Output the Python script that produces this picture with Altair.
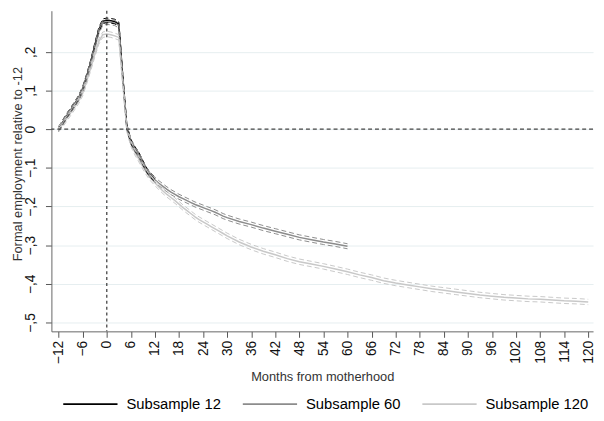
import altair as alt
import pandas as pd

series_names = ["Subsample 12", "Subsample 60", "Subsample 120"]
series_colors = ["#000000", "#8c8c8c", "#c8c8c8"]

months_12 = list(range(-12, 13))
vals_12 = [0.000, 0.017, 0.034, 0.049, 0.065, 0.081, 0.104, 0.137, 0.173, 0.216, 0.256, 0.279,
           0.281, 0.280, 0.278, 0.271, 0.133, 0.006, -0.032, -0.051, -0.066, -0.087, -0.107, -0.121, -0.130]

months_60 = list(range(-12, 31)) + list(range(33, 61, 3))
vals_60 = [0.000, 0.016, 0.033, 0.048, 0.064, 0.080, 0.102, 0.135, 0.170, 0.212, 0.252, 0.275,
           0.277, 0.276, 0.274, 0.268, 0.130, 0.005, -0.033, -0.052, -0.067, -0.088, -0.108, -0.122, -0.131,
           -0.140, -0.148, -0.156, -0.163, -0.169, -0.175, -0.180, -0.185, -0.190, -0.195, -0.199, -0.203,
           -0.207, -0.211, -0.215, -0.220, -0.225, -0.229,
           -0.239, -0.247, -0.256, -0.264, -0.272, -0.280, -0.286, -0.292, -0.297, -0.303]

months_120 = list(range(-12, 31)) + list(range(33, 121, 3))
vals_120 = [0.000, 0.012, 0.027, 0.042, 0.057, 0.073, 0.093, 0.124, 0.158, 0.193, 0.226, 0.244,
            0.246, 0.244, 0.241, 0.237, 0.118, 0.000, -0.038, -0.060, -0.078, -0.097, -0.114, -0.128, -0.139,
            -0.150, -0.160, -0.169, -0.177, -0.185, -0.194, -0.203, -0.211, -0.219, -0.227, -0.234, -0.240,
            -0.246, -0.252, -0.258, -0.264, -0.270, -0.276,
            -0.292, -0.305, -0.316, -0.325, -0.335, -0.343, -0.349, -0.355, -0.362, -0.369,
            -0.377, -0.384, -0.392, -0.398, -0.403, -0.408, -0.413, -0.417, -0.421, -0.425,
            -0.429, -0.432, -0.435, -0.437, -0.439, -0.440, -0.442, -0.444, -0.445, -0.447]

# confidence-band half widths
half_widths = [0.006, 0.0065, 0.007]

x_ticks = list(range(-12, 121, 6))
y_ticks = [-0.5, -0.4, -0.3, -0.2, -0.1, 0.0, 0.1, 0.2]

rows = []
for name, ms, vs, hw in zip(series_names, [months_12, months_60, months_120],
                            [vals_12, vals_60, vals_120], half_widths):
    for m, v in zip(ms, vs):
        rows.append({"series": name, "month": m, "value": v, "lo": v - hw, "hi": v + hw})
df = pd.DataFrame(rows)

FONT = "Liberation Sans"

x_axis = alt.Axis(values=x_ticks, labelAngle=270, labelFontSize=14, labelFont=FONT,
                  labelColor="#111111", tickSize=6, tickColor="#555555",
                  domainColor="#666666", grid=False, labelPadding=3,
                  title="Months from motherhood", titleFont=FONT, titleFontSize=13,
                  titleFontWeight="normal", titleColor="#333333", titlePadding=7,
                  labelOverlap=False)
x_scale = alt.Scale(domain=[-13.8, 121.2], nice=False, zero=False)
y_axis = alt.Axis(values=y_ticks, labelAngle=270, labelFontSize=14, labelFont=FONT,
                  labelColor="#111111", tickSize=6, tickColor="#555555", domainColor="#666666",
                  grid=True, gridColor="#e6eef0", gridWidth=1, labelPadding=8,
                  labelExpr="datum.value == 0 ? '0' : replace(format(datum.value, '.1f'), '0.', ',')",
                  title="Formal employment relative to -12", titleFont=FONT, titleFontSize=13,
                  titleFontWeight="normal", titleColor="#333333", titleX=-34, titleY=155,
                  titleBaseline="middle", labelOverlap=False)
y_scale = alt.Scale(domain=[-0.523, 0.306], nice=False, zero=False)

color_scale = alt.Scale(domain=series_names, range=series_colors)

base = alt.Chart(df)

main = base.mark_line(strokeWidth=1.5).encode(
    x=alt.X("month:Q", scale=x_scale, axis=x_axis),
    y=alt.Y("value:Q", scale=y_scale, axis=y_axis),
    color=alt.Color("series:N", scale=color_scale, sort=series_names,
                    legend=alt.Legend(orient="none", legendX=11, legendY=370, direction="horizontal",
                                      title=None, symbolType="stroke", symbolSize=3025,
                                      symbolStrokeWidth=2, labelFontSize=15, labelFont=FONT,
                                      labelColor="#000000", columnPadding=9, gridAlign="all",
                                      labelOffset=8, padding=0, columns=3)),
    order=alt.Order("month:Q"),
)

bands = base.transform_fold(["lo", "hi"], as_=["bound", "bval"]).mark_line(
    strokeWidth=1.0, strokeDash=[5, 3]
).encode(
    x=alt.X("month:Q", scale=x_scale, axis=x_axis),
    y=alt.Y("bval:Q", scale=y_scale, axis=y_axis),
    color=alt.Color("series:N", scale=color_scale, legend=None),
    detail="bound:N",
    order=alt.Order("month:Q"),
)

hline = alt.Chart(pd.DataFrame({"value": [0.0]})).mark_rule(
    strokeDash=[4, 3], color="#444444", strokeWidth=1.3
).encode(y=alt.Y("value:Q", scale=y_scale, axis=y_axis))

vline = alt.Chart(pd.DataFrame({"month": [0]})).mark_rule(
    strokeDash=[3, 3], color="#444444", strokeWidth=1.3
).encode(x=alt.X("month:Q", scale=x_scale, axis=x_axis))

chart = alt.layer(main, bands, hline, vline).properties(
    width=549, height=325,
    autosize=alt.AutoSizeParams(type="none"),
    padding={"left": 44, "top": 0, "right": 3, "bottom": 80},
    background="white",
).configure_view(stroke=None)

chart.save("out.html", embed_options={"renderer": "svg", "actions": False})
